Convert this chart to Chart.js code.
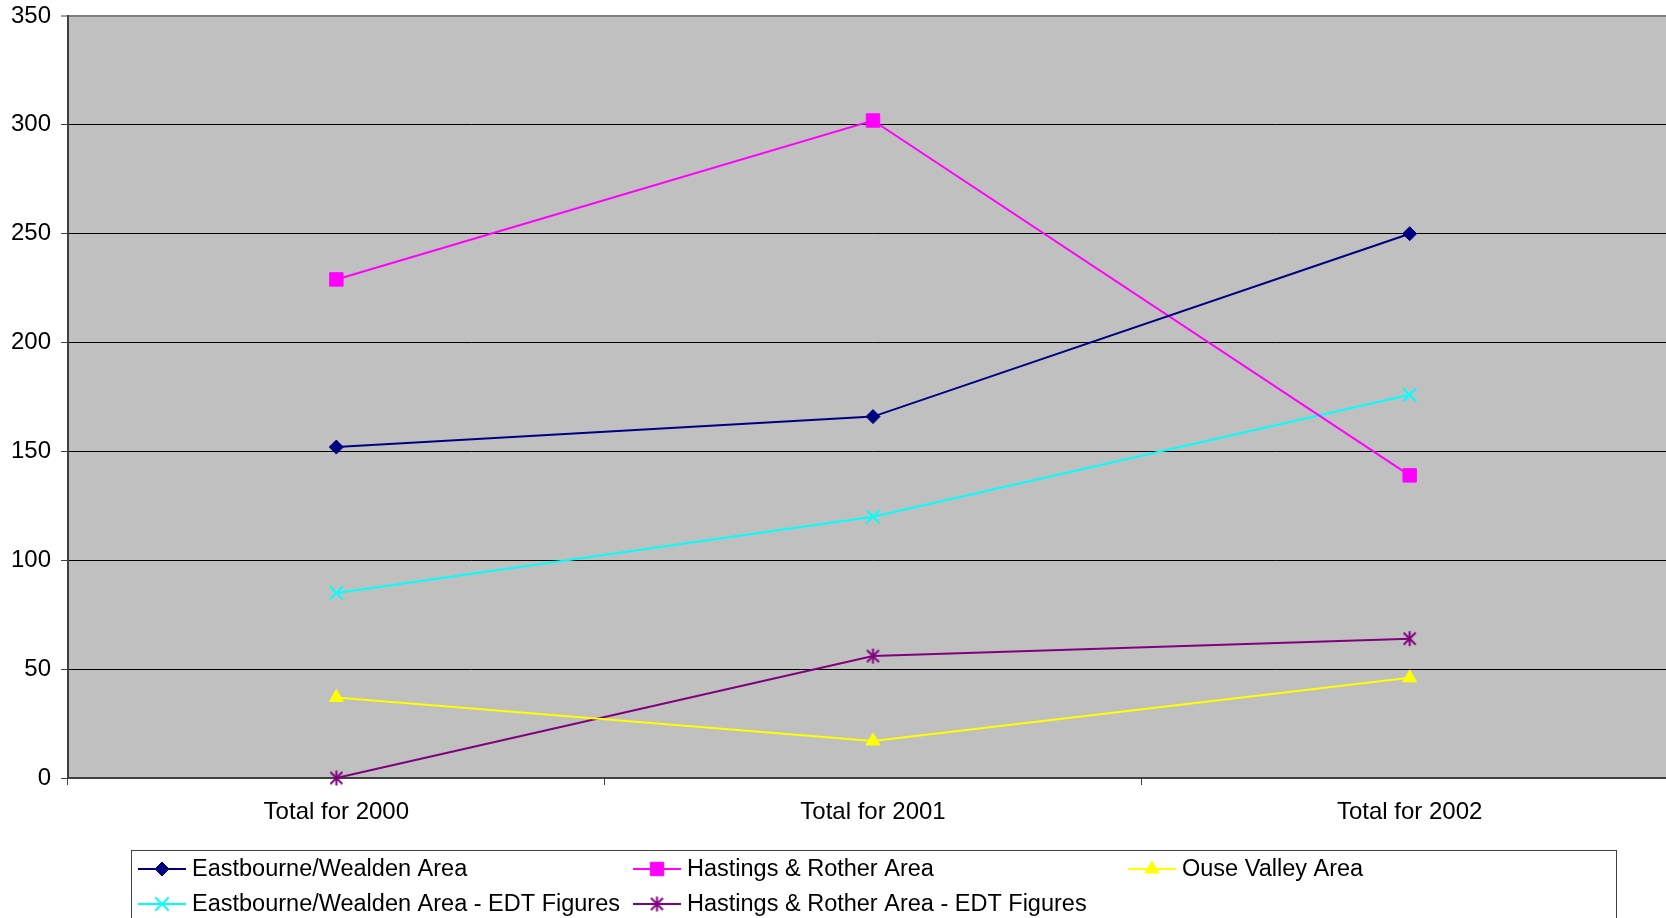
<!DOCTYPE html>
<html>
<head>
<meta charset="utf-8">
<script src="https://cdn.jsdelivr.net/npm/chart.js@4.4.1/dist/chart.umd.min.js"></script>
<style>
  html, body { margin: 0; padding: 0; background: #ffffff; overflow: hidden; }
  #wrap { position: absolute; left: 0; top: 0; width: 1700px; height: 940px; }
</style>
</head>
<body>
<div id="wrap"><canvas id="chart" width="1700" height="940"></canvas></div>
<script>
// Categories and series
const categories = ['Total for 2000', 'Total for 2001', 'Total for 2002'];
const eastbourneWealden = [152, 166, 250];
const hastingsRother = [229, 302, 139];
const ouseValley = [37, 17, 46];
const eastbourneWealdenEDT = [85, 120, 176];
const hastingsRotherEDT = [0, 56, 64];
const yTicks = [0, 50, 100, 150, 200, 250, 300, 350];

const FONT = "'Liberation Sans', Arial, sans-serif";

// Asterisk marker: an X with a vertical bar
function makeAsterisk(color) {
  const c = document.createElement('canvas');
  c.width = 17; c.height = 17;
  const g = c.getContext('2d');
  g.strokeStyle = color;
  g.lineWidth = 2;
  g.beginPath();
  g.moveTo(2.5, 2.5); g.lineTo(14.5, 14.5);
  g.moveTo(14.5, 2.5); g.lineTo(2.5, 14.5);
  g.moveTo(8.5, 1); g.lineTo(8.5, 16);
  g.stroke();
  return c;
}

function series(label, data, color, style, radius, extra) {
  return Object.assign({
    label, data,
    borderColor: color,
    backgroundColor: color,
    pointBackgroundColor: color,
    pointBorderColor: color,
    borderWidth: 2,
    pointStyle: style,
    pointRadius: radius,
    pointHoverRadius: radius,
    pointBorderWidth: 1,
    tension: 0,
    fill: false,
    clip: false
  }, extra || {});
}

const datasets = [
  series('Eastbourne/Wealden Area', eastbourneWealden, '#000080', 'rectRot', 7),
  series('Hastings & Rother Area', hastingsRother, '#FF00FF', 'rect', 9.5),
  series('Ouse Valley Area', ouseValley, '#FFFF00', 'triangle', 8),
  series('Eastbourne/Wealden Area - EDT Figures', eastbourneWealdenEDT, '#00FFFF', 'crossRot', 9.4, { pointBorderWidth: 2 }),
  series('Hastings & Rother Area - EDT Figures', hastingsRotherEDT, '#800080', makeAsterisk('#800080'), 8)
];

// Grey plot area fill
const plotBackground = {
  id: 'plotBackground',
  beforeDraw(chart) {
    const { ctx, chartArea: a } = chart;
    ctx.save();
    ctx.fillStyle = '#C0C0C0';
    ctx.fillRect(a.left, a.top, a.right - a.left, a.bottom - a.top);
    ctx.restore();
  }
};

// Boxed legend laid out in three columns, two rows
const boxedLegend = {
  id: 'boxedLegend',
  afterDraw(chart) {
    const ctx = chart.ctx;
    const box = { left: 131.5, top: 850.5, right: 1616.5, bottom: 960 };
    const cols = [138, 633, 1128];
    const rows = [869, 904];
    ctx.save();
    ctx.strokeStyle = '#404040';
    ctx.lineWidth = 1;
    ctx.strokeRect(box.left, box.top, box.right - box.left, box.bottom - box.top);
    ctx.font = '23.5px ' + FONT;
    ctx.textBaseline = 'middle';
    ctx.textAlign = 'left';
    chart.data.datasets.forEach((ds, i) => {
      const x = cols[i % 3];
      const y = rows[Math.floor(i / 3)];
      ctx.strokeStyle = ds.borderColor;
      ctx.fillStyle = ds.borderColor;
      ctx.lineWidth = 2;
      ctx.beginPath();
      ctx.moveTo(x, y);
      ctx.lineTo(x + 48, y);
      ctx.stroke();
      ctx.lineWidth = ds.pointBorderWidth;
      Chart.helpers.drawPoint(ctx, {
        pointStyle: ds.pointStyle,
        radius: ds.pointRadius,
        rotation: 0,
        borderWidth: ds.pointBorderWidth
      }, x + 24, y);
      ctx.fillStyle = '#000000';
      ctx.fillText(ds.label, x + 54, y + 1);
    });
    ctx.restore();
  }
};

new Chart(document.getElementById('chart'), {
  type: 'line',
  data: { labels: categories, datasets },
  plugins: [plotBackground, boxedLegend],
  options: {
    responsive: false,
    animation: false,
    events: [],
    layout: { padding: { top: 16, right: 22, left: 0, bottom: 0 } },
    plugins: {
      legend: { display: false },
      tooltip: { enabled: false },
      title: { display: false }
    },
    scales: {
      x: {
        type: 'category',
        offset: true,
        grid: {
          offset: true,
          drawOnChartArea: false,
          drawTicks: true,
          tickLength: 7,
          tickColor: '#404040',
          tickWidth: 1
        },
        border: { display: true, color: '#404040', width: 2 },
        ticks: {
          color: '#000000',
          font: { family: FONT, size: 24 },
          padding: 13,
          maxRotation: 0,
          autoSkip: false
        },
        afterFit(scale) {
          scale.height = 162;
          scale.paddingLeft = 0;
          scale.paddingRight = 0;
        }
      },
      y: {
        min: 0,
        max: 350,
        afterBuildTicks(scale) { scale.ticks = yTicks.map(v => ({ value: v })); },
        grid: {
          color: ctx => ctx.tick && ctx.tick.value === 350 ? '#808080' : (ctx.tick && ctx.tick.value === 0 ? '#404040' : '#000000'),
          lineWidth: ctx => ctx.tick && ctx.tick.value === 350 ? 2 : 1,
          drawTicks: true,
          tickLength: 7,
          tickColor: '#404040',
          tickWidth: 1
        },
        border: { display: true, color: '#404040', width: 2 },
        ticks: {
          color: '#000000',
          font: { family: FONT, size: 24 },
          padding: 10
        },
        afterFit(scale) {
          scale.width = 68;
          scale.paddingTop = 0;
          scale.paddingBottom = 0;
        }
      }
    }
  }
});
</script>
</body>
</html>
